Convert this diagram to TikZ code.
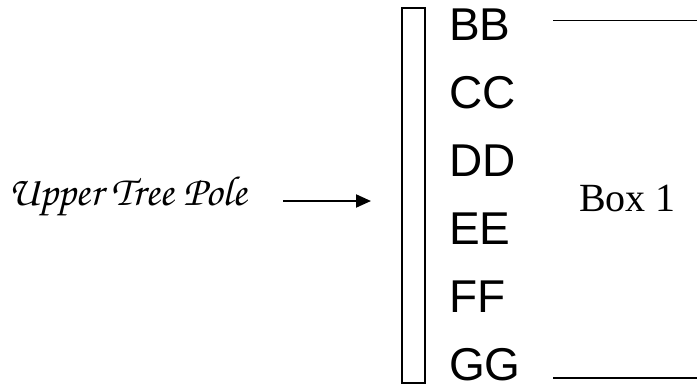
\documentclass[tikz,border=0pt]{standalone}
\usepackage{fontspec}
\setmainfont{Liberation Serif}
\setsansfont{Liberation Sans}
\usetikzlibrary{arrows.meta,positioning}
\newcommand{\chancery}{\usefont{OT1}{pzc}{mb}{it}}
\tikzset{
	poleitem/.style={anchor=west, inner sep=0pt, font=\sffamily\fontsize{46}{46}\selectfont},
	rowline/.style={line width=1.3pt},
}

\begin{document}
\begin{tikzpicture}[x=1pt, y=-1pt]
		%%%%% START %%%%%
		\useasboundingbox (0, 0) rectangle (697, 389);
		
		\node[inner sep=0pt, anchor=west] (upper) at (8, 197) {\fontsize{42}{42}\selectfont\chancery Upper Tree Pole};
		
		\node[draw, line width=1.2pt, inner sep=0pt, minimum width=23pt, minimum height=375pt] (pole) at (413.5, 195.5) {};
		\draw[line width=2pt, -{Triangle[length=15pt, width=13pt]}] (283, 201) coordinate (arrowstart) -- (371, 201) coordinate (arrowtip);
		
		\node[poleitem] (bb) at (449, 25) {BB};
		\node[poleitem] (cc) at (449, 93) {CC};
		\node[poleitem] (dd) at (449, 161) {DD};
		\node[poleitem] (ee) at (449, 229) {EE};
		\node[poleitem] (ff) at (449, 297) {FF};
		\node[poleitem] (gg) at (449, 365) {GG};
		
		\node[inner sep=0pt, anchor=west, font=\fontsize{40}{40}\selectfont] (box) at (579, 198) {Box 1};
		
		\coordinate (topstart) at (553, 20.5);
		\coordinate (topend) at (697, 20.5);
		\coordinate (botstart) at (553, 378);
		\coordinate (botend) at (697, 378);
		\draw[rowline] (topstart) -- (topend);
		\draw[rowline] (botstart) -- (botend);
		%%%%% END %%%%%
	\end{tikzpicture}
\end{document}
